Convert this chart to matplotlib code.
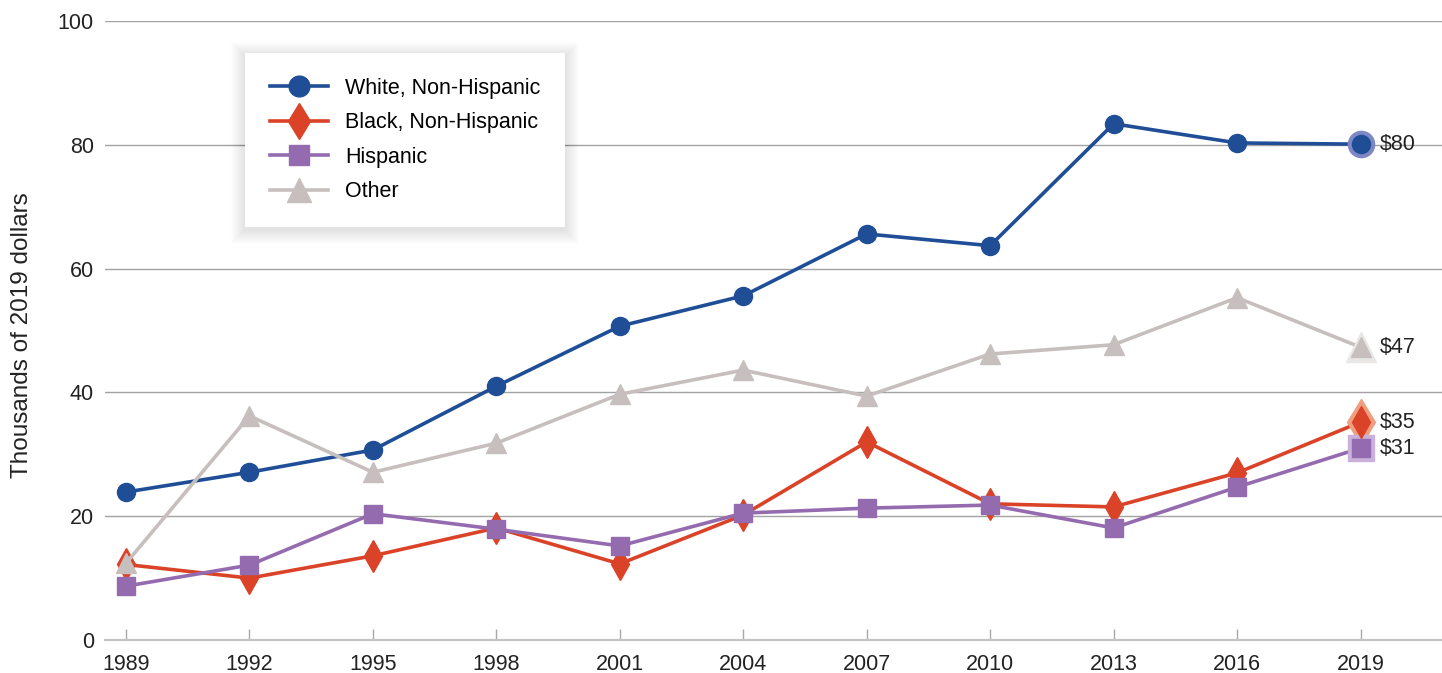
import matplotlib.pyplot as plt
from matplotlib.patches import Rectangle

plt.rcParams['font.family'] = ['Liberation Sans', 'DejaVu Sans']

years = ["1989", "1992", "1995", "1998", "2001", "2004", "2007", "2010", "2013", "2016", "2019"]
white = [23.9, 27.1, 30.7, 41.0, 50.7, 55.6, 65.6, 63.7, 83.4, 80.3, 80.1]
black = [12.2, 10.0, 13.6, 18.1, 12.3, 20.2, 32.0, 22.0, 21.5, 27.0, 35.2]
hispanic = [8.7, 12.1, 20.4, 17.9, 15.2, 20.5, 21.3, 21.8, 18.1, 24.7, 31.0]
other = [12.4, 36.2, 27.1, 31.8, 39.7, 43.6, 39.4, 46.2, 47.7, 55.3, 47.3]

series = [
    ("White, Non-Hispanic", white, "#1f4e96", "#7d88c4", "o", 13),
    ("Black, Non-Hispanic", black, "#da4327", "#ef9f80", "d", 16),
    ("Hispanic", hispanic, "#956bb0", "#c9b1dc", "s", 13),
    ("Other", other, "#c6bfbd", "#e9e7e6", "^", 15),
]

W, H = 1442, 673
fig = plt.figure(figsize=(W / 100, H / 100), dpi=100)
ax = fig.add_axes([105 / W, 1 - 640 / H, 1 - 105 / W, (640 - 21) / H])

x = list(range(len(years)))
for name, vals, col, halo, mk, ms in series:
    ax.plot(x, vals, color=col, lw=2.6, marker=mk, ms=ms, mec=col, mfc=col,
            label=name, zorder=3)
    # highlighted final point
    ax.plot(x[-1], vals[-1], marker=mk, ms=ms * 1.45, mfc=halo, mec=halo, zorder=4)
    ax.plot(x[-1], vals[-1], marker=mk, ms=ms, mfc=col, mec=col, zorder=5)
    ax.annotate(f"${round(vals[-1])}", (x[-1], vals[-1]), xytext=(14, 0),
                textcoords="offset points", va="center", ha="left",
                fontsize=15.5, color="#222222", zorder=6)

ax.set_xlim(-0.17, 10.66)
ax.set_ylim(0, 100)
ax.set_yticks([0, 20, 40, 60, 80, 100])
ax.set_xticks(x)
ax.set_xticklabels(years)
ax.yaxis.grid(True, color="#a3a3a3", lw=1.0)
ax.set_axisbelow(True)
for s in ["top", "right", "left"]:
    ax.spines[s].set_visible(False)
ax.spines["bottom"].set_color("#c4c4c4")
ax.spines["bottom"].set_linewidth(1.6)
ax.tick_params(axis="y", length=0, pad=8, labelsize=15.5, labelcolor="#222222")
ax.tick_params(axis="x", direction="in", length=8, width=1, color="#a8a8a8",
               pad=10, labelsize=15.5, labelcolor="#222222")
fig.text(22 / W, 1 - 335 / H, "Thousands of 2019 dollars", rotation=90,
         ha="center", va="center", fontsize=17.5, color="#222222")

leg = ax.legend(loc="upper left", bbox_to_anchor=(245 / W, 1 - 53 / H),
                bbox_transform=fig.transFigure, fontsize=15.5, frameon=True,
                fancybox=False, framealpha=1, borderpad=1.15, labelspacing=0.63,
                handlelength=2.7, handletextpad=0.8, borderaxespad=0,
                markerscale=1.15)
leg.get_frame().set_edgecolor("white")
leg.get_frame().set_linewidth(0)
leg.set_zorder(10)

# soft drop shadow under the legend box
fig.canvas.draw()
bb = leg.get_window_extent()
for i in range(14, 0, -1):
    sh = Rectangle((bb.x0 - i, bb.y0 - i - 3), bb.width + 2 * i, bb.height + 2 * i,
                   transform=None, facecolor="black", edgecolor="none",
                   alpha=0.009, zorder=9)
    sh.set_clip_on(False)
    ax.add_artist(sh)

fig.savefig("out.png", dpi=100, facecolor="white")
